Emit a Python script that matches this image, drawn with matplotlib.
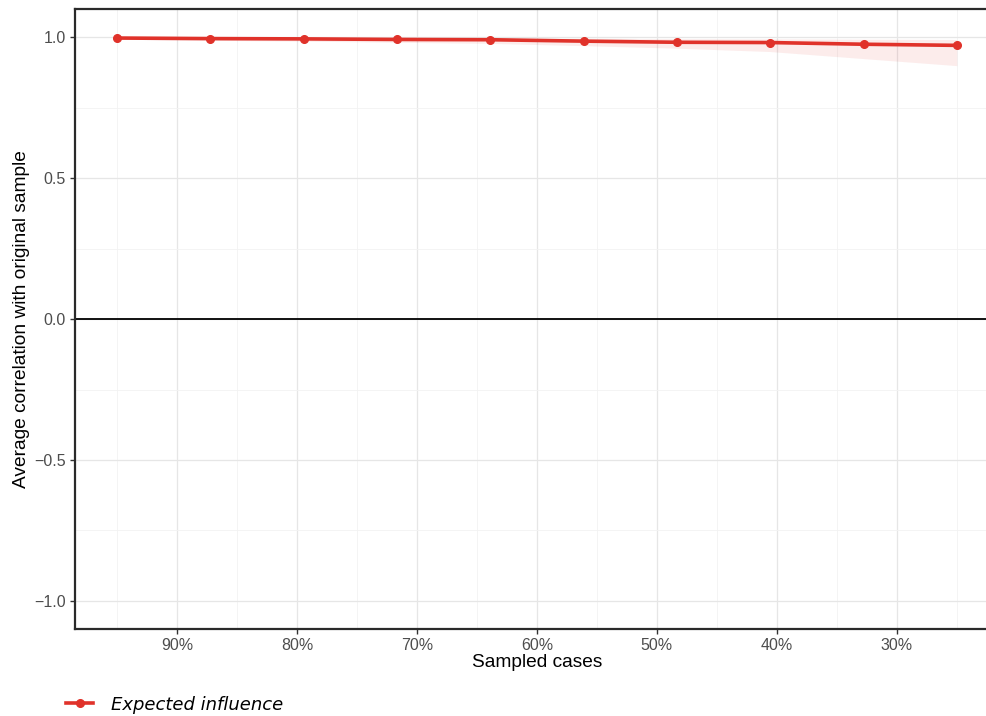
import numpy as np
import matplotlib.pyplot as plt
from matplotlib.ticker import FuncFormatter, MultipleLocator

# Case-dropping stability: proportion of sampled cases vs average correlation
sampled = [95.0, 87.22, 79.44, 71.67, 63.89, 56.11, 48.33, 40.56, 32.78, 25.0]
mean_cor = [0.998, 0.996, 0.995, 0.993, 0.992, 0.987, 0.983, 0.982, 0.976, 0.972]
lower_cor = [0.994, 0.990, 0.987, 0.983, 0.979, 0.971, 0.962, 0.950, 0.925, 0.900]
upper_cor = [1.000, 0.999, 0.999, 0.998, 0.998, 0.997, 0.996, 0.995, 0.994, 0.993]
series_name = "Expected influence"

red = '#e0322a'

fig = plt.figure(figsize=(9.87, 7.16), dpi=100)
ax = fig.add_axes([0.076, 0.1215, 0.936, 0.8655])

ax.fill_between(sampled, lower_cor, upper_cor, color=red, alpha=0.09, linewidth=0)
ax.plot(sampled, mean_cor, color=red, linewidth=2.6, marker='o', markersize=5.5,
        label=series_name, zorder=3)
ax.axhline(0, color='black', linewidth=1.3, zorder=2)

ax.set_xlim(98.5, 21.5)
ax.set_ylim(-1.1, 1.1)

ax.xaxis.set_major_locator(MultipleLocator(10))
ax.xaxis.set_minor_locator(MultipleLocator(5))
ax.yaxis.set_major_locator(MultipleLocator(0.5))
ax.yaxis.set_minor_locator(MultipleLocator(0.25))
ax.xaxis.set_major_formatter(FuncFormatter(lambda v, p: '%d%%' % round(v)))
ax.yaxis.set_major_formatter(FuncFormatter(lambda v, p: ('%.1f' % v).replace('-', '\u2212')))

ax.grid(which='major', color='#e6e6e6', linewidth=0.9)
ax.grid(which='minor', color='#f2f2f2', linewidth=0.6)
ax.set_axisbelow(True)

for s in ax.spines.values():
    s.set_color('#2a2a2a')
    s.set_linewidth(1.6)
ax.spines['right'].set_visible(False)

ax.tick_params(which='major', length=3.5, width=1, color='#333333',
               labelsize=11.5, labelcolor='#4d4d4d', pad=3)
ax.tick_params(which='minor', length=0)

ax.set_xlabel('Sampled cases', fontsize=13.8, family='Liberation Sans', labelpad=1)
ax.set_ylabel('Average correlation with original sample', fontsize=13.8,
              family='Liberation Sans', labelpad=3)
for lab in ax.get_xticklabels() + ax.get_yticklabels():
    lab.set_family('Liberation Sans')

leg = ax.legend(loc='lower left', bbox_to_anchor=(-0.027, -0.163), frameon=False,
                prop={'family': 'DejaVu Sans', 'style': 'italic', 'size': 13},
                handlelength=1.5, handletextpad=1.0)

fig.savefig('out.png', dpi=100)
